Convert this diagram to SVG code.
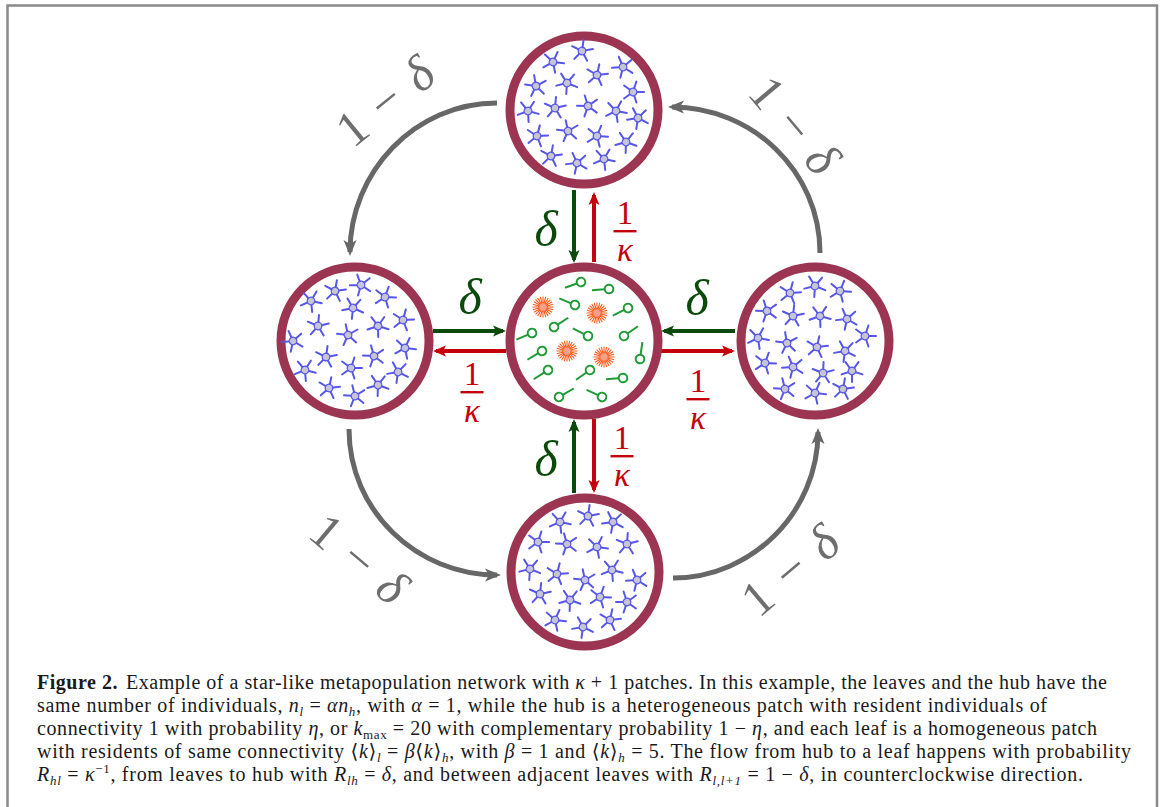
<svg xmlns="http://www.w3.org/2000/svg" xmlns:xlink="http://www.w3.org/1999/xlink" width="1165" height="807" viewBox="0 0 1165 807">
  <style>
    .ring { fill: #ffffff; stroke: #9b3552; stroke-width: 9; }
    .g-arrow { stroke: #0b4a0b; stroke-width: 4; fill: none; }
    .r-arrow { stroke: #c3000b; stroke-width: 4; fill: none; }
    .flow { stroke: #676767; stroke-width: 5; fill: none; }
    .lbl-g { font-family: "Liberation Serif", "DejaVu Serif", serif; font-style: italic; font-size: 50px; fill: #0b4a0b; text-anchor: middle; }
    .frac { font-family: "Liberation Serif", "DejaVu Serif", serif; font-size: 33px; fill: #c3000b; text-anchor: middle; }
    .frac .k { font-style: italic; }
    .lbl-1d { font-family: "Liberation Serif", "DejaVu Serif", serif; font-size: 50px; fill: #6e6e6e; text-anchor: middle; }
    .cap { font-family: "Liberation Serif", "DejaVu Serif", serif; font-size: 20px; fill: #1a1a1a; }
    .i { font-style: italic; }
    .b { font-weight: bold; }
    .sub { font-size: 13px; }
  </style>
  <defs>
    <marker id="mg" markerUnits="userSpaceOnUse" orient="auto" overflow="visible" markerWidth="1" markerHeight="1">
      <path d="M3,0 L-10,-5.5 L-7,0 L-10,5.5 Z" fill="#0b4a0b"/>
    </marker>
    <marker id="mr" markerUnits="userSpaceOnUse" orient="auto" overflow="visible" markerWidth="1" markerHeight="1">
      <path d="M3,0 L-10,-5.5 L-7,0 L-10,5.5 Z" fill="#c3000b"/>
    </marker>
    <marker id="mk" markerUnits="userSpaceOnUse" orient="auto" overflow="visible" markerWidth="1" markerHeight="1">
      <path d="M4,0 L-12,-6.5 L-8,0 L-12,6.5 Z" fill="#676767"/>
    </marker>
    <!-- leaf resident: five-armed star -->
    <g id="st">
      <path d="M0,0 L0,-11 M0,0 L10.5,-3.4 M0,0 L6.5,8.9 M0,0 L-6.5,8.9 M0,0 L-10.5,-3.4" stroke="#5656e8" stroke-width="2" stroke-linecap="round" fill="none"/>
      <circle r="3.8" fill="#c5c5d5" stroke="#5656e8" stroke-width="1.3"/>
    </g>
    <!-- hub resident of connectivity 1 -->
    <g id="lp">
      <line x1="4.3" y1="0" x2="17" y2="0" stroke="#1f9a35" stroke-width="2"/>
      <circle r="4.3" fill="#ffffff" stroke="#1f9a35" stroke-width="2"/>
    </g>
    <!-- hub resident of connectivity k_max -->
    <g id="bu">
      <path d="M2,0L10.5,0M1.93,0.52L10.14,2.72M1.73,1L9.09,5.25M1.41,1.41L7.42,7.42M1,1.73L5.25,9.09M0.52,1.93L2.72,10.14M0,2L0,10.5M-0.52,1.93L-2.72,10.14M-1,1.73L-5.25,9.09M-1.41,1.41L-7.42,7.42M-1.73,1L-9.09,5.25M-1.93,0.52L-10.14,2.72M-2,0L-10.5,0M-1.93,-0.52L-10.14,-2.72M-1.73,-1L-9.09,-5.25M-1.41,-1.41L-7.42,-7.42M-1,-1.73L-5.25,-9.09M-0.52,-1.93L-2.72,-10.14M0,-2L0,-10.5M0.52,-1.93L2.72,-10.14M1,-1.73L5.25,-9.09M1.41,-1.41L7.42,-7.42M1.73,-1L9.09,-5.25M1.93,-0.52L10.14,-2.72" stroke="#ff5a1a" stroke-width="1.1" fill="none"/>
      <circle r="4.2" fill="#f6a08a" stroke="#ff6a30" stroke-width="1"/>
    </g>
  </defs>

  <!-- frame -->
  <path d="M7.5,807 V5.5 H1157 V807" fill="none" stroke="#8a8a8a" stroke-width="2.5"/>

  <!-- connectors -->
  <g id="connectors">
    <!-- leaf to leaf, counterclockwise -->
    <path class="flow" d="M497,103 C415,103 350,172 350,252" marker-end="url(#mk)"/>
    <path class="flow" d="M349,429 C349,511 417,575 497,575" marker-end="url(#mk)"/>
    <path class="flow" d="M673,578 C752,578 818,512 818,432" marker-end="url(#mk)"/>
    <path class="flow" d="M820,253 C820,171 752,107 672,107" marker-end="url(#mk)"/>
    <!-- leaves to hub -->
    <path class="g-arrow" d="M574,190 V260" marker-end="url(#mg)"/>
    <path class="g-arrow" d="M433,331 H503" marker-end="url(#mg)"/>
    <path class="g-arrow" d="M735,331 H664" marker-end="url(#mg)"/>
    <path class="g-arrow" d="M574,493 V422" marker-end="url(#mg)"/>
    <!-- hub to leaves -->
    <path class="r-arrow" d="M594,262 V195" marker-end="url(#mr)"/>
    <path class="r-arrow" d="M506,351 H436" marker-end="url(#mr)"/>
    <path class="r-arrow" d="M661,351 H732" marker-end="url(#mr)"/>
    <path class="r-arrow" d="M594,419 V490" marker-end="url(#mr)"/>
  </g>

  <!-- hub -->
  <g id="hub">
    <circle class="ring" cx="584" cy="341" r="74"/>
    <use href="#bu" transform="translate(543,307)"/>
    <use href="#bu" transform="translate(597,313)"/>
    <use href="#bu" transform="translate(567,351)"/>
    <use href="#bu" transform="translate(604,357)"/>
    <use href="#lp" transform="translate(581,282) rotate(160)"/>
    <use href="#lp" transform="translate(609,289) rotate(176)"/>
    <use href="#lp" transform="translate(575,305) rotate(203)"/>
    <use href="#lp" transform="translate(628,308) rotate(153)"/>
    <use href="#lp" transform="translate(554,327) rotate(-33)"/>
    <use href="#lp" transform="translate(532,333) rotate(157)"/>
    <use href="#lp" transform="translate(588,336) rotate(207)"/>
    <use href="#lp" transform="translate(624,336) rotate(-35)"/>
    <use href="#lp" transform="translate(542,351) rotate(149)"/>
    <use href="#lp" transform="translate(640,359) rotate(-82)"/>
    <use href="#lp" transform="translate(548,370) rotate(147)"/>
    <use href="#lp" transform="translate(590,370) rotate(145)"/>
    <use href="#lp" transform="translate(623,378) rotate(176)"/>
    <use href="#lp" transform="translate(559,397) rotate(-30)"/>
    <use href="#lp" transform="translate(602,397) rotate(205)"/>
  </g>

  <!-- top leaf -->
  <g id="leaf-top" transform="translate(584,110)">
    <circle class="ring" r="74"/>
    <use href="#st" transform="translate(-2,-59) rotate(8)"/>
    <use href="#st" transform="translate(-31,-48) rotate(25)"/>
    <use href="#st" transform="translate(39,-43) rotate(50)"/>
    <use href="#st" transform="translate(13,-35) rotate(12)"/>
    <use href="#st" transform="translate(-17,-27) rotate(40)"/>
    <use href="#st" transform="translate(-48,-24) rotate(62)"/>
    <use href="#st" transform="translate(49,-18) rotate(18)"/>
    <use href="#st" transform="translate(-56,1) rotate(33)"/>
    <use href="#st" transform="translate(-29,-2) rotate(5)"/>
    <use href="#st" transform="translate(4,-4) rotate(55)"/>
    <use href="#st" transform="translate(32,1) rotate(28)"/>
    <use href="#st" transform="translate(54,8) rotate(45)"/>
    <use href="#st" transform="translate(-47,26) rotate(15)"/>
    <use href="#st" transform="translate(-16,21) rotate(60)"/>
    <use href="#st" transform="translate(13,26) rotate(22)"/>
    <use href="#st" transform="translate(42,32) rotate(38)"/>
    <use href="#st" transform="translate(-33,46) rotate(10)"/>
    <use href="#st" transform="translate(-7,53) rotate(48)"/>
    <use href="#st" transform="translate(20,49) rotate(30)"/>
  </g>

  <!-- left leaf -->
  <g id="leaf-left" transform="translate(355,341)">
    <circle class="ring" r="74"/>
    <use href="#st" transform="translate(-44,-40) rotate(30)"/>
    <use href="#st" transform="translate(-20,-50) rotate(10)"/>
    <use href="#st" transform="translate(6,-56) rotate(52)"/>
    <use href="#st" transform="translate(30,-44) rotate(20)"/>
    <use href="#st" transform="translate(-2,-33) rotate(42)"/>
    <use href="#st" transform="translate(-37,-15) rotate(5)"/>
    <use href="#st" transform="translate(-7,-6) rotate(60)"/>
    <use href="#st" transform="translate(23,-15) rotate(35)"/>
    <use href="#st" transform="translate(48,-21) rotate(15)"/>
    <use href="#st" transform="translate(-62,0) rotate(48)"/>
    <use href="#st" transform="translate(50,7) rotate(25)"/>
    <use href="#st" transform="translate(-29,16) rotate(8)"/>
    <use href="#st" transform="translate(19,15) rotate(56)"/>
    <use href="#st" transform="translate(-50,29) rotate(32)"/>
    <use href="#st" transform="translate(-4,27) rotate(18)"/>
    <use href="#st" transform="translate(43,31) rotate(44)"/>
    <use href="#st" transform="translate(-26,47) rotate(12)"/>
    <use href="#st" transform="translate(23,44) rotate(38)"/>
    <use href="#st" transform="translate(0,55) rotate(58)"/>
  </g>

  <!-- right leaf -->
  <g id="leaf-right" transform="translate(815,341)">
    <circle class="ring" r="74"/>
    <use href="#st" transform="translate(-25,-48) rotate(14)"/>
    <use href="#st" transform="translate(0,-55) rotate(40)"/>
    <use href="#st" transform="translate(25,-50) rotate(22)"/>
    <use href="#st" transform="translate(-48,-30) rotate(55)"/>
    <use href="#st" transform="translate(-22,-25) rotate(6)"/>
    <use href="#st" transform="translate(5,-25) rotate(34)"/>
    <use href="#st" transform="translate(32,-22) rotate(48)"/>
    <use href="#st" transform="translate(50,-5) rotate(18)"/>
    <use href="#st" transform="translate(-57,-3) rotate(28)"/>
    <use href="#st" transform="translate(-28,2) rotate(62)"/>
    <use href="#st" transform="translate(2,6) rotate(12)"/>
    <use href="#st" transform="translate(30,10) rotate(44)"/>
    <use href="#st" transform="translate(-50,22) rotate(20)"/>
    <use href="#st" transform="translate(-22,26) rotate(50)"/>
    <use href="#st" transform="translate(8,32) rotate(3)"/>
    <use href="#st" transform="translate(37,30) rotate(36)"/>
    <use href="#st" transform="translate(-30,48) rotate(58)"/>
    <use href="#st" transform="translate(0,52) rotate(24)"/>
    <use href="#st" transform="translate(28,48) rotate(10)"/>
  </g>

  <!-- bottom leaf -->
  <g id="leaf-bottom" transform="translate(585,572)">
    <circle class="ring" r="74"/>
    <use href="#st" transform="translate(-25,-50) rotate(30)"/>
    <use href="#st" transform="translate(3,-56) rotate(8)"/>
    <use href="#st" transform="translate(28,-50) rotate(46)"/>
    <use href="#st" transform="translate(-47,-30) rotate(18)"/>
    <use href="#st" transform="translate(-18,-28) rotate(56)"/>
    <use href="#st" transform="translate(12,-25) rotate(26)"/>
    <use href="#st" transform="translate(42,-28) rotate(4)"/>
    <use href="#st" transform="translate(-55,-3) rotate(40)"/>
    <use href="#st" transform="translate(-28,2) rotate(14)"/>
    <use href="#st" transform="translate(0,8) rotate(60)"/>
    <use href="#st" transform="translate(27,-2) rotate(32)"/>
    <use href="#st" transform="translate(52,8) rotate(50)"/>
    <use href="#st" transform="translate(-45,22) rotate(6)"/>
    <use href="#st" transform="translate(-15,28) rotate(38)"/>
    <use href="#st" transform="translate(15,25) rotate(20)"/>
    <use href="#st" transform="translate(42,30) rotate(54)"/>
    <use href="#st" transform="translate(-30,48) rotate(24)"/>
    <use href="#st" transform="translate(-2,55) rotate(44)"/>
    <use href="#st" transform="translate(25,48) rotate(12)"/>
  </g>

  <!-- rate labels: leaves to hub -->
  <g id="labels-delta">
    <text class="lbl-g" x="546" y="246">δ</text>
    <text class="lbl-g" x="470" y="314">δ</text>
    <text class="lbl-g" x="697" y="315">δ</text>
    <text class="lbl-g" x="546" y="476">δ</text>
  </g>

  <!-- rate labels: hub to leaves (1 over kappa) -->
  <g id="labels-kappa">
    <g class="frac" transform="translate(625,0)">
      <text y="224">1</text>
      <rect x="-11.5" y="230" width="23" height="2.4" fill="#c3000b"/>
      <text class="k" y="261">κ</text>
    </g>
    <g class="frac" transform="translate(472,0)">
      <text y="385">1</text>
      <rect x="-11.5" y="391" width="23" height="2.4" fill="#c3000b"/>
      <text class="k" y="422">κ</text>
    </g>
    <g class="frac" transform="translate(698,0)">
      <text y="392">1</text>
      <rect x="-11.5" y="398" width="23" height="2.4" fill="#c3000b"/>
      <text class="k" y="429">κ</text>
    </g>
    <g class="frac" transform="translate(622,0)">
      <text y="449">1</text>
      <rect x="-11.5" y="455" width="23" height="2.4" fill="#c3000b"/>
      <text class="k" y="486">κ</text>
    </g>
  </g>

  <!-- rate labels: leaf to leaf -->
  <g id="labels-flow" class="lbl-1d">
    <g transform="translate(388,104) rotate(-39)">
      <text x="-43" y="13">1</text><text y="13">−</text><text class="i" x="43" y="13">δ</text>
    </g>
    <g transform="translate(792,128) rotate(50)">
      <text x="-43" y="13">1</text><text y="13">−</text><text class="i" x="43" y="13">δ</text>
    </g>
    <g transform="translate(357,562) rotate(40)">
      <text x="-43" y="13">1</text><text y="13">−</text><text class="i" x="43" y="13">δ</text>
    </g>
    <g transform="translate(793,573) rotate(-40)">
      <text x="-43" y="13">1</text><text y="13">−</text><text class="i" x="43" y="13">δ</text>
    </g>
  </g>

  <!-- caption -->
  <g id="caption" class="cap">
    <text x="37" y="689" textLength="1070" lengthAdjust="spacing"><tspan class="b">Figure 2.</tspan><tspan dx="8">Example of a star-like metapopulation network with </tspan><tspan class="i">κ</tspan> + 1 patches. In this example, the leaves and the hub have the</text>
    <text x="37" y="712" textLength="1010" lengthAdjust="spacing">same number of individuals, <tspan class="i">n</tspan><tspan class="i sub" dy="4">l</tspan><tspan dy="-4"> = </tspan><tspan class="i">αn</tspan><tspan class="i sub" dy="4">h</tspan><tspan dy="-4">, with </tspan><tspan class="i">α</tspan> = 1, while the hub is a heterogeneous patch with resident individuals of</text>
    <text x="37" y="735" textLength="1060" lengthAdjust="spacing">connectivity 1 with probability <tspan class="i">η</tspan>, or <tspan class="i">k</tspan><tspan class="sub" dy="4">max</tspan><tspan dy="-4"> = 20 with complementary probability 1 − </tspan><tspan class="i">η</tspan>, and each leaf is a homogeneous patch</text>
    <text x="37" y="758" textLength="1094" lengthAdjust="spacing">with residents of same connectivity ⟨<tspan class="i">k</tspan>⟩<tspan class="i sub" dy="4">l</tspan><tspan dy="-4"> = </tspan><tspan class="i">β</tspan>⟨<tspan class="i">k</tspan>⟩<tspan class="i sub" dy="4">h</tspan><tspan dy="-4">, with </tspan><tspan class="i">β</tspan> = 1 and ⟨<tspan class="i">k</tspan>⟩<tspan class="i sub" dy="4">h</tspan><tspan dy="-4"> = 5. The flow from hub to a leaf happens with probability</tspan></text>
    <text x="37" y="781" textLength="1046" lengthAdjust="spacing"><tspan class="i">R</tspan><tspan class="i sub" dy="4">hl</tspan><tspan dy="-4"> = </tspan><tspan class="i">κ</tspan><tspan class="sub" dy="-8">−1</tspan><tspan dy="8">, from leaves to hub with </tspan><tspan class="i">R</tspan><tspan class="i sub" dy="4">lh</tspan><tspan dy="-4"> = </tspan><tspan class="i">δ</tspan>, and between adjacent leaves with <tspan class="i">R</tspan><tspan class="i sub" dy="4">l,l+1</tspan><tspan dy="-4"> = 1 − </tspan><tspan class="i">δ</tspan>, in counterclockwise direction.</text>
  </g>
</svg>
